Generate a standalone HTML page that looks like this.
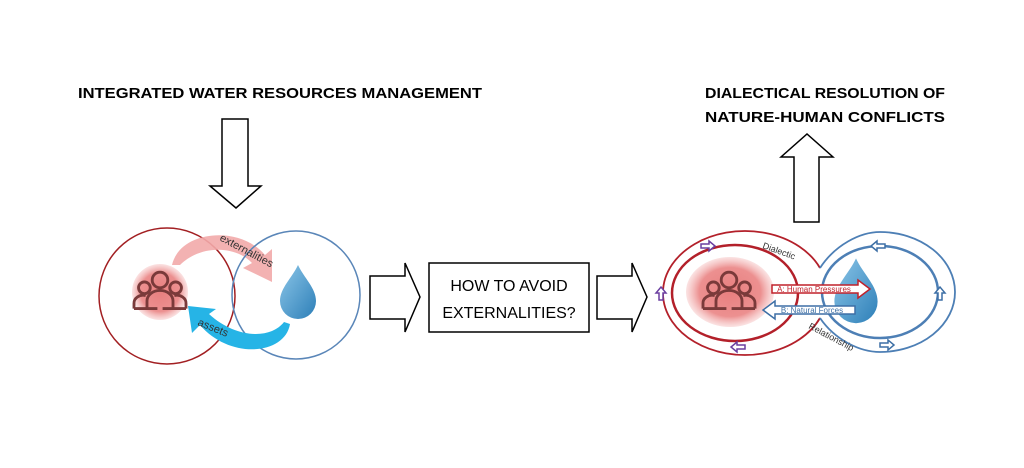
<!DOCTYPE html>
<html><head><meta charset="utf-8"><style>body{margin:0;background:#fff}svg{display:block}</style></head><body>
<svg width="1024" height="468" viewBox="0 0 1024 468" xmlns="http://www.w3.org/2000/svg" font-family="Liberation Sans, sans-serif">
<defs>
<radialGradient id="pk"><stop offset="0" stop-color="#e87f7f"/><stop offset="0.7" stop-color="#ec9090"/><stop offset="1" stop-color="#f4b8b8" stop-opacity="0.4"/></radialGradient>
<linearGradient id="dr" x1="0" y1="0" x2="1" y2="1"><stop offset="0" stop-color="#8cc6e8"/><stop offset="1" stop-color="#2d7fb8"/></linearGradient>
<g id="ppl" fill="none" stroke="#7a3a3a" stroke-width="2.2">
<circle cx="0" cy="-10" r="6"/><circle cx="-12" cy="-4" r="4.5"/><circle cx="12" cy="-4" r="4.5"/>
<path d="M-10 12 v-6 a10 8 0 0 1 20 0 v6 M-20 12 v-4 a7 6 0 0 1 9 -6 M20 12 v-4 a7 6 0 0 0 -9 -6 M-20 12 h18 M2 12 h18"/>
</g>
<path id="drop" d="M0 -28 C6 -15 18 -5 18 8 A18 18 0 0 1 -18 8 C-18 -5 -6 -15 0 -28Z" fill="url(#dr)"/>
</defs>
<text x="78" y="98" font-size="15" font-weight="bold" textLength="404" lengthAdjust="spacingAndGlyphs">INTEGRATED WATER RESOURCES MANAGEMENT</text>
<text x="825" y="98" font-size="15" font-weight="bold" text-anchor="middle" textLength="240" lengthAdjust="spacingAndGlyphs">DIALECTICAL RESOLUTION OF</text>
<text x="825" y="122" font-size="15" font-weight="bold" text-anchor="middle" textLength="240" lengthAdjust="spacingAndGlyphs">NATURE-HUMAN CONFLICTS</text>
<g fill="#fff" stroke="#000" stroke-width="1.5">
<path d="M222 119 H248 V186 H261 L236 208 L210 186 H222 Z"/>
<path d="M794 222 V157 H781 L807 134 L833 157 H819 V222 Z"/>
<path d="M370 276 H405 V263 L420 297 L405 332 V319 H370 Z"/>
<path d="M597 276 H632 V263 L647 297 L632 332 V319 H597 Z"/>
<rect x="429" y="263" width="160" height="69"/>
</g>
<text x="509" y="291" font-size="16" text-anchor="middle">HOW TO AVOID</text>
<text x="509" y="318" font-size="16" text-anchor="middle">EXTERNALITIES?</text>
<!-- left -->
<circle cx="160" cy="292" r="28" fill="url(#pk)"/>
<g transform="translate(160 293) scale(1.3)"><use href="#ppl"/></g>
<circle cx="167" cy="296" r="68" fill="none" stroke="#a21f22" stroke-width="1.5"/>
<path d="M172 265 C180 230 240 225 265 255 L272 249 L272 282 L243 268 L252 263 C235 245 200 245 180 265Z" fill="#f2aaaa" opacity="0.9"/>
<use href="#drop" x="298" y="293"/>
<circle cx="296" cy="295" r="64" fill="none" stroke="#5a86b8" stroke-width="1.5"/>
<path d="M290 324 C285 355 230 360 200 325 L192 333 L188 306 L216 309 L209 314 C235 338 270 340 284 322Z" fill="#26b4e6"/>
<text font-size="11" fill="#333" transform="translate(219 240) rotate(28)">externalities</text>
<text font-size="11" fill="#333" transform="translate(197 325) rotate(22)">assets</text>
<!-- right -->
<ellipse cx="730" cy="292" rx="44" ry="35" fill="url(#pk)"/>
<g transform="translate(729 293) scale(1.3)"><use href="#ppl"/></g>
<g transform="translate(856 292) scale(1.2)"><use href="#drop"/></g>
<ellipse cx="735" cy="293" rx="63" ry="48" fill="none" stroke="#b3202a" stroke-width="2.5"/>
<ellipse cx="880" cy="292" rx="58" ry="46" fill="none" stroke="#4d7fb5" stroke-width="2.5"/>
<path d="M820 268 A82 62 0 1 0 820 318" fill="none" stroke="#b3202a" stroke-width="1.8"/>
<path d="M820 268 C835 245 860 232 880 232 A75 60 0 0 1 880 352 C860 352 835 340 820 318" fill="none" stroke="#4d7fb5" stroke-width="1.8"/>
<path d="M772 285 H858 V280 L870 289 L858 298 V293 H772Z" fill="#fff" stroke="#c0202a" stroke-width="1.5"/>
<text x="814" y="292" font-size="8" fill="#c0202a" text-anchor="middle">A: Human Pressures</text>
<path d="M855 306 H775 V301 L763 310 L775 319 V314 H855Z" fill="#fff" stroke="#3d6fa5" stroke-width="1.5"/>
<text x="812" y="313" font-size="8" fill="#3d6fa5" text-anchor="middle">B: Natural Forces</text>
<text font-size="9" fill="#333" transform="translate(762 248) rotate(20)">Dialectic</text>
<text font-size="9" fill="#333" transform="translate(808 328) rotate(28)">Relationship</text>
<g fill="#fff" stroke="#6b3fa0" stroke-width="1.5">
<path d="M701 244 h8 v-3 l6 5 l-6 5 v-3 h-8z"/>
<path d="M745 345 h-8 v-3 l-6 5 l6 5 v-3 h8z"/>
<path d="M659 300 v-7 h-3 l5 -6 l5 6 h-3 v7z"/>
</g>
<g fill="#fff" stroke="#3d6fa5" stroke-width="1.5">
<path d="M885 244 h-8 v-3 l-6 5 l6 5 v-3 h8z"/>
<path d="M880 343 h8 v-3 l6 5 l-6 5 v-3 h-8z"/>
<path d="M938 300 v-7 h-3 l5 -6 l5 6 h-3 v7z"/>
</g>
</svg>
</body></html>
